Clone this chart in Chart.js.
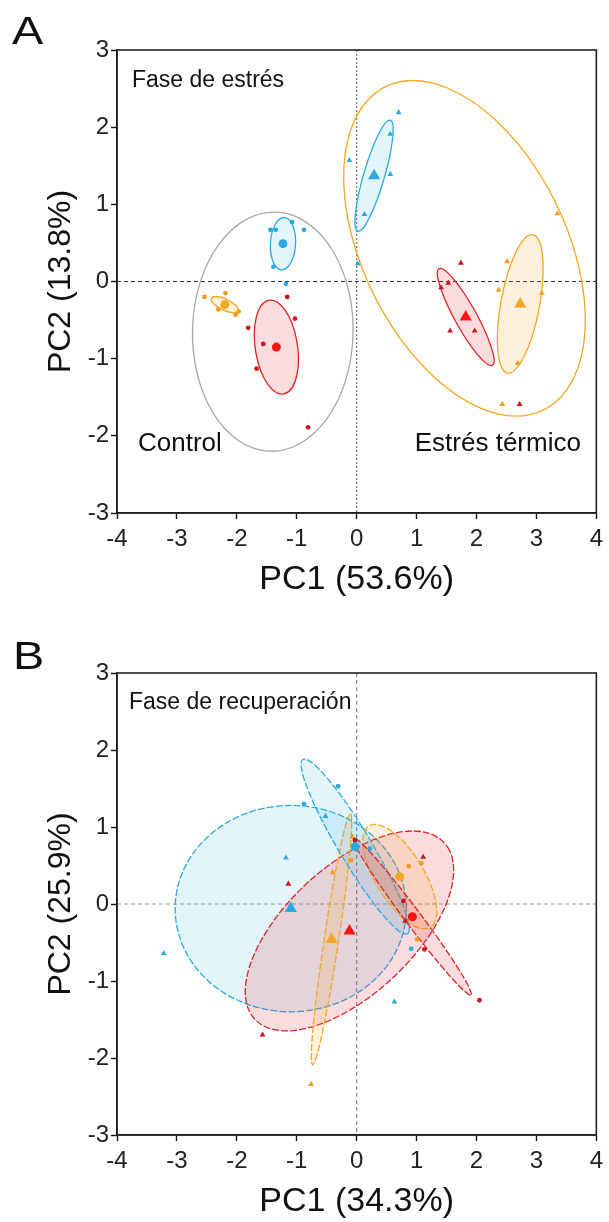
<!DOCTYPE html>
<html>
<head>
<meta charset="utf-8">
<script src="https://cdn.jsdelivr.net/npm/chart.js@4.4.1/dist/chart.umd.min.js"></script>
<style>
  html, body { margin: 0; padding: 0; background: #fff; }
  .panel { position: relative; width: 609px; height: 611px; }
</style>
</head>
<body>
<div class="panel"><canvas id="chartA"></canvas></div>
<div class="panel"><canvas id="chartB"></canvas></div>
<script>
"use strict";

const FONT = "'Liberation Sans', Arial, 'DejaVu Sans', sans-serif";

// ticks
const xTicks = [-4, -3, -2, -1, 0, 1, 2, 3, 4];
const yTicks = [-3, -2, -1, 0, 1, 2, 3];

/* -------- Panel A: fase de estrés -------- */
// control samples (circles)
const aCyanCirc = [[-1.44, 0.67], [-1.35, 0.67], [-1.08, 0.77], [-0.88, 0.67], [-1.39, 0.19], [-1.18, -0.03]];
const aOrangeCirc = [[-2.54, -0.20], [-2.19, -0.15], [-2.31, -0.36], [-1.97, -0.39], [-2.02, -0.43]];
const aRedCirc = [[-1.16, -0.20], [-1.03, -0.48], [-1.81, -0.60], [-1.56, -0.81], [-1.67, -1.13], [-0.81, -1.89]];
// heat stress samples (triangles)
const aCyanTri = [[0.70, 2.19], [0.56, 1.91], [-0.12, 1.57], [0.56, 1.39], [0.13, 0.87], [0.02, 0.23]];
const aRedTri = [[1.74, 0.24], [1.41, -0.08], [1.53, -0.02], [1.56, -0.64], [1.97, -0.64], [2.72, -1.59]];
const aOrangeTri = [[3.35, 0.88], [2.51, 0.26], [2.37, -0.11], [3.09, -0.15], [2.69, -1.06], [2.43, -1.59]];
// confidence ellipses: [centre x, centre y, semi-axis a, semi-axis b, angle deg]
const aCyanCircEll = [-1.23, 0.49, 0.34, 0.21, 85];
const aOrangeCircEll = [-2.20, -0.30, 0.24, 0.075, -19];
const aRedCircEll = [-1.34, -0.85, 0.62, 0.35, -77];
const aCyanTriEll = [0.29, 1.37, 0.77, 0.17, 69];
const aRedTriEll = [1.82, -0.46, 0.77, 0.17, -54];
const aOrangeTriEll = [2.73, -0.29, 0.92, 0.32, 76];
const aControlEll = [-1.40, -0.65, 1.55, 1.34, 87];
const aStressEll = [1.80, 0.43, 2.51, 1.58, -50];

/* -------- Panel B: fase de recuperación -------- */
const bCyanCirc = [[-0.88, 1.30], [-0.31, 1.53], [0.22, 0.72], [0.91, -0.58]];
const bOrangeCirc = [[0.87, 0.49], [1.08, 0.53], [1.01, -0.46], [-0.09, 0.57]];
const bRedCirc = [[-0.03, 0.83], [0.78, 0.04], [1.13, -0.59], [2.05, -1.25]];
const bCyanTri = [[-3.22, -0.64], [-1.18, 0.60], [-0.52, 1.14], [0.63, -1.27]];
const bRedTri = [[-1.14, 0.26], [-1.57, -1.70], [1.11, 0.61], [0.81, -0.22]];
const bOrangeTri = [[-0.76, -2.34], [-0.40, 0.41], [-0.07, 0.87]];
const bCyanCircEll = [-0.025, 0.745, 1.43, 0.25, -52];
const bOrangeCircEll = [0.72, 0.355, 0.84, 0.37, -49];
const bRedCircEll = [0.93, -0.165, 1.41, 0.12, -46];
const bCyanTriEll = [-1.10, -0.06, 1.93, 1.34, 0];
const bRedTriEll = [-0.12, -0.35, 1.97, 0.91, 32];
const bOrangeTriEll = [-0.42, -0.46, 1.66, 0.12, 79];

// colours
const CYAN = '#29abe2', CYAN_FILL = 'rgba(41,171,226,0.13)';
const RED = '#d9262c', RED_DOT = '#cc1620', RED_BIG = '#ff1414', RED_FILL = 'rgba(232,40,52,0.16)';
const ORANGE = '#f5a623', ORANGE_DOT = '#f39c1e', ORANGE_FILL = 'rgba(245,166,35,0.16)';
const GRAY = '#a8a8a8';

const pts = arr => arr.map(([x, y]) => ({ x: x, y: y }));

function pointSet(data, style, color, r) {
    return {
        data: pts(data),
        pointStyle: style,
        pointRadius: r,
        pointHoverRadius: r,
        backgroundColor: color,
        borderColor: color,
        borderWidth: 0,
        showLine: false
    };
}

// centroid marker = centre of the group ellipse
function centreSet(ell, style, color, r) {
    return pointSet([[ell[0], ell[1]]], style, color, r);
}

// zero lines, ellipses, frame and texts (settings kept in a closure,
// not in the chart options, so chart.js does not resolve them)
function makeDecor(cfg) {
    return {
        id: 'pcaDecor',
        beforeDatasetsDraw(chart) {
            const { ctx, chartArea: a } = chart;
            const xs = chart.scales.x, ys = chart.scales.y;
            ctx.save();
            ctx.beginPath();
            ctx.rect(a.left, a.top, a.right - a.left, a.bottom - a.top);
            ctx.clip();

            const x0 = xs.getPixelForValue(0), y0 = ys.getPixelForValue(0);
            ctx.lineWidth = 1.2;
            ctx.setLineDash(cfg.vDash);
            ctx.strokeStyle = cfg.vColor;
            ctx.beginPath(); ctx.moveTo(x0, a.top); ctx.lineTo(x0, a.bottom); ctx.stroke();
            ctx.setLineDash(cfg.hDash);
            ctx.strokeStyle = cfg.hColor;
            ctx.beginPath(); ctx.moveTo(a.left, y0); ctx.lineTo(a.right, y0); ctx.stroke();

            ctx.setLineDash(cfg.ellDash);
            ctx.lineWidth = 1.3;
            cfg.ellipses.forEach(it => {
                const e = it.e;
                const px = xs.getPixelForValue(e[0]), py = ys.getPixelForValue(e[1]);
                const kx = xs.getPixelForValue(e[0] + 1) - px;
                const ky = ys.getPixelForValue(e[1] + 1) - py;
                ctx.save();
                ctx.translate(px, py);
                ctx.transform(kx, 0, 0, ky, 0, 0);
                ctx.beginPath();
                ctx.ellipse(0, 0, e[2], e[3], e[4] * Math.PI / 180, 0, Math.PI * 2);
                ctx.restore();
                if (it.fill) {
                    ctx.fillStyle = it.fill;
                    ctx.fill();
                }
                ctx.strokeStyle = it.stroke;
                ctx.stroke();
            });
            ctx.restore();
        },
        afterDraw(chart) {
            const { ctx, chartArea: a } = chart;
            const xs = chart.scales.x, ys = chart.scales.y;
            ctx.save();
            // box round the plot
            ctx.strokeStyle = '#222';
            ctx.lineWidth = 1.6;
            ctx.strokeRect(a.left, a.top, a.right - a.left, a.bottom - a.top);

            ctx.fillStyle = '#111';
            ctx.textBaseline = 'alphabetic';
            cfg.labels.forEach(l => {
                ctx.font = l.size + 'px ' + FONT;
                ctx.textAlign = 'left';
                ctx.fillText(l.text, xs.getPixelForValue(l.x), ys.getPixelForValue(l.y));
            });

            // panel letter
            ctx.font = '39px ' + FONT;
            ctx.textAlign = 'left';
            ctx.translate(cfg.letterPos[0], cfg.letterPos[1]);
            ctx.scale(1.2, 1);
            ctx.fillText(cfg.letter, 0, 0);
            ctx.restore();
        }
    };
}

function makeScales(xTitle, yTitle, xHeight, xTitlePad) {
    const tickFont = { family: FONT, size: 24 };
    return {
        x: {
            type: 'linear',
            min: xTicks[0],
            max: xTicks[xTicks.length - 1],
            afterBuildTicks: s => { s.ticks = xTicks.map(v => ({ value: v })); },
            ticks: { color: '#222', font: tickFont, padding: 6, autoSkip: false, maxRotation: 0 },
            grid: { drawOnChartArea: false, drawTicks: true, tickLength: 6, tickColor: '#111', tickWidth: 1.4 },
            border: { display: true, color: '#111', width: 1.6 },
            title: { display: true, text: xTitle, color: '#111', font: { family: FONT, size: 34 }, padding: { top: 0, bottom: xTitlePad } },
            afterFit: s => { s.height = xHeight; }
        },
        y: {
            type: 'linear',
            min: yTicks[0],
            max: yTicks[yTicks.length - 1],
            afterBuildTicks: s => { s.ticks = yTicks.map(v => ({ value: v })); },
            ticks: { color: '#222', font: tickFont, padding: 2, autoSkip: false },
            grid: { drawOnChartArea: false, drawTicks: true, tickLength: 6, tickColor: '#111', tickWidth: 1.4 },
            border: { display: true, color: '#111', width: 1.6 },
            title: { display: true, text: yTitle, color: '#111', font: { family: FONT, size: 32 }, padding: { top: 42, bottom: 0 } },
            afterFit: s => { s.width = 117; }
        }
    };
}

function baseOptions(scales, padding) {
    return {
        responsive: true,
        maintainAspectRatio: false,
        animation: false,
        events: [],
        layout: { padding: padding },
        scales: scales,
        plugins: {
            legend: { display: false },
            tooltip: { enabled: false }
        }
    };
}

// Panel A
new Chart(document.getElementById('chartA'), {
    type: 'scatter',
    data: {
        datasets: [
            pointSet(aCyanCirc, 'circle', CYAN, 2.4),
            pointSet(aOrangeCirc, 'circle', ORANGE_DOT, 2.4),
            pointSet(aRedCirc, 'circle', RED_DOT, 2.4),
            pointSet(aCyanTri, 'triangle', CYAN, 3.4),
            pointSet(aRedTri, 'triangle', RED_DOT, 3.4),
            pointSet(aOrangeTri, 'triangle', ORANGE_DOT, 3.4),
            centreSet(aCyanCircEll, 'circle', CYAN, 4.5),
            centreSet(aOrangeCircEll, 'circle', ORANGE, 4.5),
            centreSet(aRedCircEll, 'circle', RED_BIG, 4.5),
            centreSet(aCyanTriEll, 'triangle', CYAN, 7),
            centreSet(aRedTriEll, 'triangle', RED_BIG, 7),
            centreSet(aOrangeTriEll, 'triangle', ORANGE, 7)
        ]
    },
    options: baseOptions(
        makeScales('PC1 (53.6%)', 'PC2 (13.8%)', 98, 11),
        { top: 50, right: 10, bottom: 0, left: 0 }
    ),
    plugins: [makeDecor({
        vDash: [2, 2], vColor: '#777',
        hDash: [4, 3], hColor: '#333',
        ellDash: [],
        ellipses: [
            { e: aControlEll, stroke: GRAY },
            { e: aStressEll, stroke: ORANGE },
            { e: aCyanCircEll, stroke: CYAN, fill: CYAN_FILL },
            { e: aOrangeCircEll, stroke: ORANGE, fill: ORANGE_FILL },
            { e: aRedCircEll, stroke: RED, fill: RED_FILL },
            { e: aCyanTriEll, stroke: CYAN, fill: CYAN_FILL },
            { e: aRedTriEll, stroke: RED, fill: RED_FILL },
            { e: aOrangeTriEll, stroke: ORANGE, fill: ORANGE_FILL }
        ],
        labels: [
            { text: 'Fase de estrés', x: -3.75, y: 2.52, size: 23 },
            { text: 'Control', x: -3.65, y: -2.20, size: 26 },
            { text: 'Estrés térmico', x: 0.97, y: -2.20, size: 26 }
        ],
        letter: 'A',
        letterPos: [12, 44]
    })]
});

// Panel B
new Chart(document.getElementById('chartB'), {
    type: 'scatter',
    data: {
        datasets: [
            pointSet(bCyanCirc, 'circle', CYAN, 2.4),
            pointSet(bOrangeCirc, 'circle', ORANGE_DOT, 2.4),
            pointSet(bRedCirc, 'circle', RED_DOT, 2.4),
            pointSet(bCyanTri, 'triangle', CYAN, 3.4),
            pointSet(bRedTri, 'triangle', RED_DOT, 3.4),
            pointSet(bOrangeTri, 'triangle', ORANGE_DOT, 3.4),
            centreSet(bCyanCircEll, 'circle', CYAN, 4.5),
            centreSet(bOrangeCircEll, 'circle', ORANGE, 4.5),
            centreSet(bRedCircEll, 'circle', RED_BIG, 4.5),
            centreSet(bCyanTriEll, 'triangle', CYAN, 7),
            centreSet(bRedTriEll, 'triangle', RED_BIG, 7),
            centreSet(bOrangeTriEll, 'triangle', ORANGE, 7)
        ]
    },
    options: baseOptions(
        makeScales('PC1 (34.3%)', 'PC2 (25.9%)', 87, 0),
        { top: 62, right: 12, bottom: 0, left: 0 }
    ),
    plugins: [makeDecor({
        vDash: [4, 3], vColor: '#888',
        hDash: [4, 3], hColor: '#999',
        ellDash: [7, 2],
        ellipses: [
            { e: bCyanTriEll, stroke: CYAN, fill: CYAN_FILL },
            { e: bRedTriEll, stroke: RED, fill: RED_FILL },
            { e: bOrangeTriEll, stroke: ORANGE, fill: ORANGE_FILL },
            { e: bCyanCircEll, stroke: CYAN, fill: CYAN_FILL },
            { e: bOrangeCircEll, stroke: ORANGE, fill: ORANGE_FILL },
            { e: bRedCircEll, stroke: RED, fill: RED_FILL }
        ],
        labels: [
            { text: 'Fase de recuperación', x: -3.80, y: 2.53, size: 23 }
        ],
        letter: 'B',
        letterPos: [13, 58]
    })]
});
</script>
</body>
</html>
